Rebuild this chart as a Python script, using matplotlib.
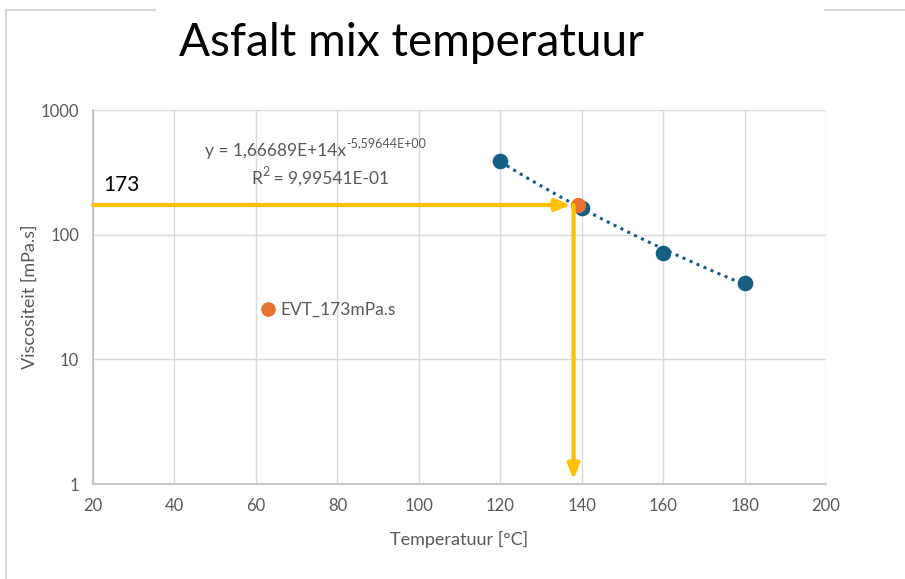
import numpy as np
import matplotlib
matplotlib.use("Agg")
import matplotlib.pyplot as plt
from matplotlib.lines import Line2D

plt.rcParams['font.family'] = ['Lato', 'DejaVu Sans']

# data
temps = [120, 140, 160, 180]
visc = [390, 165, 71, 41]
evt_temp = 139
evt_visc = 173
fit_a = 1.66689e14
fit_b = -5.59644
x_ticks = [20, 40, 60, 80, 100, 120, 140, 160, 180, 200]
y_ticks = [1, 10, 100, 1000]

blue = '#156082'
orange = '#E97132'
yellow = '#FFC000'
grey_txt = '#595959'
grid_col = '#d9d9d9'

fig = plt.figure(figsize=(9.05, 5.79), dpi=100)
ax = fig.add_axes([0.1028, 0.164, 0.81, 0.646])

ax.set_yscale('log')
ax.set_xlim(20, 200)
ax.set_ylim(1, 1000)
ax.set_xticks(x_ticks)
ax.set_yticks(y_ticks)
ax.set_yticklabels([str(t) for t in y_ticks])
ax.yaxis.set_minor_locator(matplotlib.ticker.NullLocator())
ax.grid(True, color=grid_col, lw=1)
ax.set_axisbelow(True)
for s in ['top', 'right']:
    ax.spines[s].set_visible(False)
for s in ['left', 'bottom']:
    ax.spines[s].set_color('#bfbfbf')
    ax.spines[s].set_linewidth(1.2)
ax.tick_params(length=0, colors=grey_txt, labelsize=12, pad=10)

ax.set_xlabel('Temperatuur [°C]', color=grey_txt, fontsize=13, labelpad=12)
ax.set_ylabel('Viscositeit [mPa.s]', color=grey_txt, fontsize=13, labelpad=2)

# trend line
xf = np.linspace(temps[0], temps[-1], 100)
ax.plot(xf, fit_a * xf ** fit_b, ls=(0, (1, 1.5)), color=blue, lw=2.2, zorder=3)

ax.scatter(temps, visc, s=105, color=blue, zorder=4)
ax.scatter([evt_temp], [evt_visc], s=100, color=orange, zorder=5)

# arrows
arrow_x = evt_temp - 1
ax.annotate('', xy=(arrow_x - 0.6, evt_visc), xytext=(20, evt_visc),
            arrowprops=dict(arrowstyle='-|>,head_length=0.9,head_width=0.35',
                            color=yellow, lw=3, shrinkA=0, shrinkB=0), zorder=6)
ax.annotate('', xy=(arrow_x, 1.08), xytext=(arrow_x, evt_visc),
            arrowprops=dict(arrowstyle='-|>,head_length=0.9,head_width=0.35',
                            color=yellow, lw=3, shrinkA=0, shrinkB=0), zorder=6)
ax.text(22.5, 250, str(evt_visc), fontsize=15, color='black', va='center')

# trendline equation
eq = ax.text(47.5, 470, 'y = 1,66689E+14x', fontsize=12.5, color=grey_txt,
             ha='left', va='center')
ax.annotate('-5,59644E+00', xy=(1, 0.62), xycoords=eq, fontsize=9, color=grey_txt,
            ha='left', va='bottom')
r2 = ax.text(58.8, 282, 'R', fontsize=12.5, color=grey_txt, ha='left', va='center')
sup2 = ax.annotate('2', xy=(1, 0.55), xycoords=r2, fontsize=9, color=grey_txt,
                   ha='left', va='bottom')
ax.annotate(' = 9,99541E-01', xy=(1, 0), xycoords=(sup2, r2), fontsize=12.5,
            color=grey_txt, ha='left', va='bottom')

h = Line2D([], [], marker='o', ls='', color=orange, markersize=9.5)
ax.legend([h], ['EVT_173mPa.s'], loc='center left', bbox_to_anchor=(0.203, 0.465),
          frameon=False, handletextpad=0.1, labelcolor=grey_txt, fontsize=12.5,
          handlelength=1.2)

# outer frame pieces
fig.add_artist(Line2D([6 / 905, 6 / 905], [0, 1 - 10 / 579], color=grid_col, lw=1.5,
                      transform=fig.transFigure))
fig.add_artist(Line2D([6 / 905, 155 / 905], [1 - 10 / 579, 1 - 10 / 579], color=grid_col,
                      lw=1.5, transform=fig.transFigure))
fig.add_artist(Line2D([825 / 905, 1], [1 - 10 / 579, 1 - 10 / 579], color=grid_col,
                      lw=1.5, transform=fig.transFigure))

fig.text(0.455, 0.925, 'Asfalt mix temperatuur', fontsize=33, ha='center', va='center',
         color='black')

fig.savefig('out.png', dpi=100)
